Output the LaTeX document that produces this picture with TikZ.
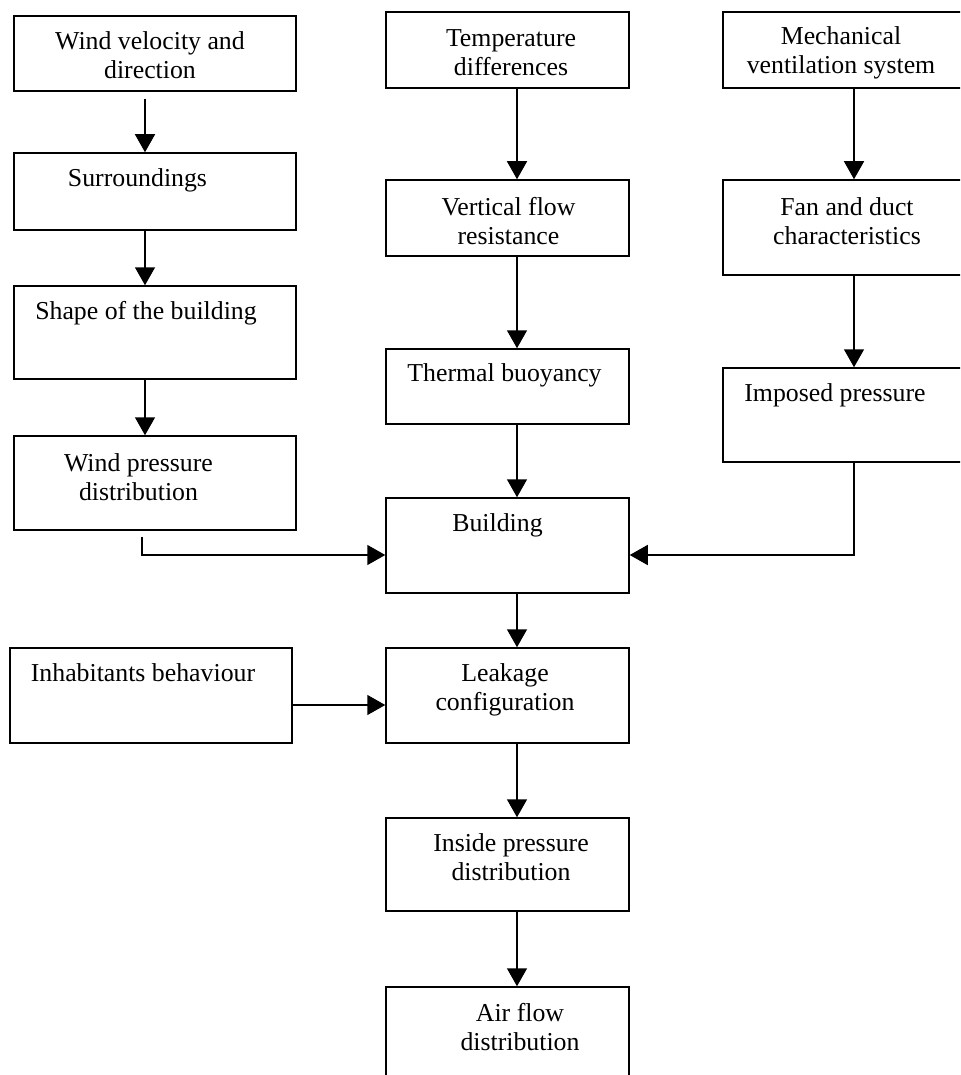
\documentclass[tikz,border=0pt]{standalone}
\usepackage{fontspec}
\setmainfont{Liberation Serif}
\usetikzlibrary{arrows.meta}
\begin{document}
\begin{tikzpicture}
  [x=0.5pt,y=-0.5pt,
   box/.style={draw,line width=0.75pt,rectangle,inner sep=0pt},
   lbox/.style={box,minimum width=141pt},
   mbox/.style={box,minimum width=121.5pt},
   rbox/.style={box,minimum width=131pt},
   txt/.style={align=center,inner sep=0pt,font=\fontsize{12.9}{14.5}\selectfont},
   arr/.style={line width=0.75pt,-{Triangle[length=9pt,width=10pt]}}]
  \path[use as bounding box,clip] (0,0) rectangle (960,1075);
  % wind side
  \node[lbox,minimum height=37.5pt] (wind) at (155,53.5) {};
  \node[txt] (windt) at (150,55) {Wind velocity and\\direction};
  \node[lbox,minimum height=38.5pt] (surr) at (155,191.5) {};
  \node[txt] (surrt) at (137.5,180) {Surroundings};
  \node[lbox,minimum height=46.5pt] (shape) at (155,332.5) {};
  \node[txt] (shapet) at (146,313) {Shape of the building};
  \node[lbox,minimum height=47pt] (windp) at (155,483) {};
  \node[txt] (windpt) at (138.5,477.5) {Wind pressure\\distribution};
  \node[lbox,minimum height=47.5pt] (inhab) at (151,695.5) {};
  \node[txt] (inhabt) at (143,673) {Inhabitants behaviour};
  % thermal side and the building
  \node[mbox,minimum height=38pt] (temp) at (507.5,50) {};
  \node[txt] (tempt) at (511,52.5) {Temperature\\differences};
  \node[mbox,minimum height=38pt] (vert) at (507.5,218) {};
  \node[txt] (vertt) at (508.5,221) {Vertical flow\\resistance};
  \node[mbox,minimum height=37.5pt] (therm) at (507.5,386.5) {};
  \node[txt] (thermt) at (504.5,375) {Thermal buoyancy};
  \node[mbox,minimum height=47.5pt] (build) at (507.5,545.5) {};
  \node[txt] (buildt) at (497.5,525) {Building};
  \node[mbox,minimum height=47.5pt] (leak) at (507.5,695.5) {};
  \node[txt] (leakt) at (505,690) {Leakage\\configuration};
  \node[mbox,minimum height=46.5pt] (inside) at (507.5,864.5) {};
  \node[txt] (insidet) at (511,857) {Inside pressure\\distribution};
  \node[mbox,minimum height=49pt] (air) at (507.5,1036) {};
  \node[txt] (airt) at (520,1027) {Air flow\\distribution};
  % mechanical side
  \node[rbox,minimum height=38pt] (mech) at (854,50) {};
  \node[txt] (mecht) at (841,52.5) {Mechanical\\ventilation system};
  \node[rbox,minimum height=47.5pt] (fan) at (854,227.5) {};
  \node[txt] (fant) at (847,221) {Fan and duct\\characteristics};
  \node[rbox,minimum height=47pt] (imposed) at (854,415) {};
  \node[txt] (imposedt) at (835,395) {Imposed pressure};

  \draw[arr,shorten <=3.5pt] ([xshift=-5pt]wind.south) -- ([xshift=-5pt]surr.north);
  \foreach \from/\to/\dx in {surr/shape/-5pt,shape/windp/-5pt,
    temp/vert/4.75pt,vert/therm/4.75pt,therm/build/4.75pt,
    build/leak/4.75pt,leak/inside/4.75pt,inside/air/4.75pt,
    mech/fan/0pt,fan/imposed/0pt}
    \draw[arr] ([xshift=\dx]\from.south) -- ([xshift=\dx]\to.north);
  \draw[arr] ([xshift=-6.5pt,yshift=-3pt]windp.south) |- ([yshift=-4.75pt]build.west);
  \draw[arr] (imposed.south) |- ([yshift=-4.75pt]build.east);
  \draw[arr] ([yshift=-4.75pt]inhab.east) -- ([yshift=-4.75pt]leak.west);
\end{tikzpicture}
\end{document}
